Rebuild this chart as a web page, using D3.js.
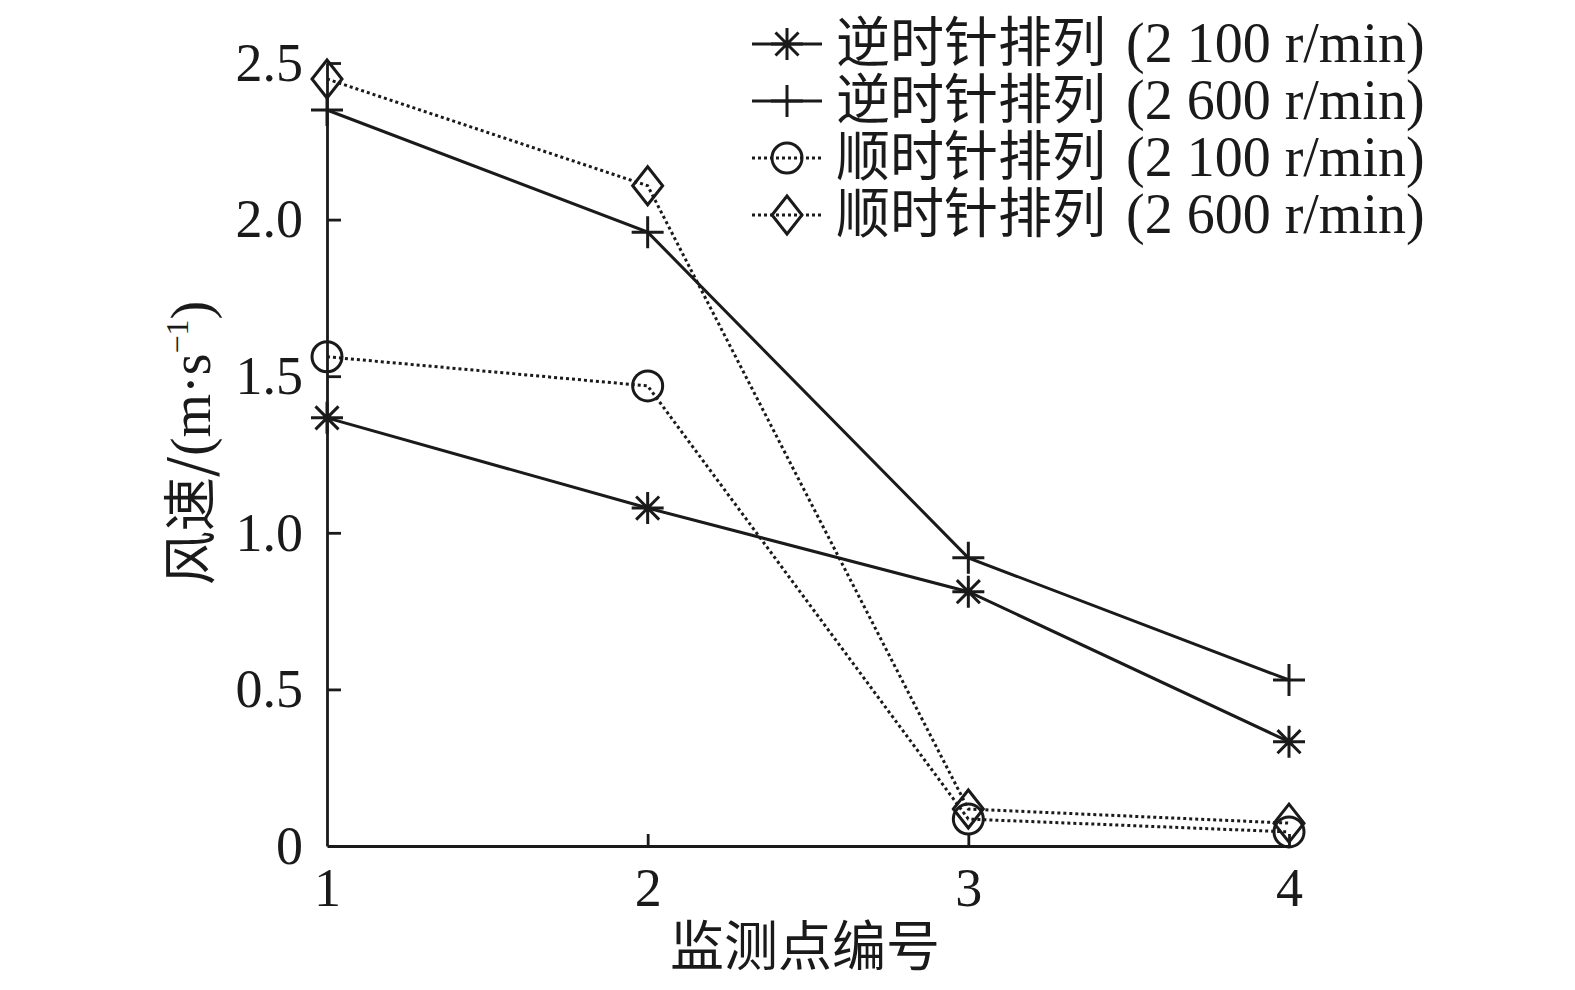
<!DOCTYPE html>
<html>
<head>
<meta charset="utf-8">
<script src="https://cdn.jsdelivr.net/npm/d3@7"></script>
<style>
    body { margin: 0; background: #fff; }
    svg { display: block; }
    .axis path, .axis line { stroke: #1a1a1a; stroke-width: 2.8px; }
    .axis text { font-family: "Liberation Serif", "Times New Roman", serif; font-size: 54px; fill: #1a1a1a; }
</style>
</head>
<body>
<svg id="chart" width="1575" height="990"></svg>
<script>
// monitoring points
var points = [1, 2, 3, 4];
var xTicks = [1, 2, 3, 4];
var yTicks = [0, 0.5, 1.0, 1.5, 2.0, 2.5];

// wind speed, m/s
var ccw2100 = [1.367, 1.079, 0.812, 0.333];
var ccw2600 = [2.35, 1.96, 0.92, 0.53];
var cw2100 = [1.562, 1.469, 0.086, 0.045];
var cw2600 = [2.449, 2.108, 0.118, 0.073];

var seriesNames = [
    "逆时针排列 (2 100 r/min)",
    "逆时针排列 (2 600 r/min)",
    "顺时针排列 (2 100 r/min)",
    "顺时针排列 (2 600 r/min)"
];

var series = [
    { name: seriesNames[0], values: ccw2100, marker: "star", dash: null },
    { name: seriesNames[1], values: ccw2600, marker: "plus", dash: null },
    { name: seriesNames[2], values: cw2100, marker: "circle", dash: "3,3" },
    { name: seriesNames[3], values: cw2600, marker: "diamond", dash: "3,3" }
];

var svg = d3.select("svg#chart"),
    ink = "#1a1a1a",
    x_scale = d3.scaleLinear().domain([1, 4]).range([327, 1289]),
    y_scale = d3.scaleLinear().domain([0, 2.5]).range([846, 63]);

var y_axis = d3.axisLeft(y_scale)
    .tickValues(yTicks)
    .tickFormat(d => d === 0 ? "0" : d3.format(".1f")(d))
    .tickSizeInner(-14)
    .tickSizeOuter(0)
    .tickPadding(24);

var x_axis = d3.axisBottom(x_scale)
    .tickValues(xTicks)
    .tickFormat(d3.format("d"))
    .tickSizeInner(-12)
    .tickSizeOuter(0)
    .tickPadding(22);

svg.append("g")
    .attr("class", "y axis")
    .attr("transform", "translate(327,0)")
    .call(y_axis);

svg.append("g")
    .attr("class", "x axis")
    .attr("transform", "translate(0,846)")
    .call(x_axis);

// remove tick marks at the origin
svg.selectAll(".y.axis .tick").filter(d => d === 0).select("line").remove();
svg.selectAll(".x.axis .tick").filter(d => d === 1).select("line").remove();

// axis titles
svg.append("text")
    .attr("x", 805)
    .attr("y", 966)
    .attr("text-anchor", "middle")
    .attr("font-family", "Noto Sans CJK SC")
    .attr("font-size", 54)
    .attr("fill", ink)
    .text("监测点编号");

var ytitle = svg.append("text")
    .attr("transform", "translate(210,443) rotate(-90)")
    .attr("text-anchor", "middle")
    .attr("fill", ink);
ytitle.append("tspan")
    .attr("font-family", "Noto Sans CJK SC")
    .attr("font-size", 54)
    .text("风速/");
ytitle.append("tspan")
    .attr("font-family", "Liberation Serif")
    .attr("font-size", 56)
    .text("(m·s");
ytitle.append("tspan")
    .attr("font-family", "Liberation Serif")
    .attr("font-size", 32)
    .attr("dy", -22)
    .text("−1");
ytitle.append("tspan")
    .attr("font-family", "Liberation Serif")
    .attr("font-size", 56)
    .attr("dy", 22)
    .text(")");

function drawMarker(sel, type) {
    var s = 16;
    if (type === "star") {
        var a = s * 0.72;
        sel.append("path")
            .attr("d", "M" + (-s) + ",0H" + s + "M0," + (-s) + "V" + s +
                "M" + (-a) + "," + (-a) + "L" + a + "," + a +
                "M" + (-a) + "," + a + "L" + a + "," + (-a))
            .attr("stroke", ink).attr("stroke-width", 3).attr("fill", "none");
    } else if (type === "plus") {
        sel.append("path")
            .attr("d", "M" + (-s) + ",0H" + s + "M0," + (-s) + "V" + s)
            .attr("stroke", ink).attr("stroke-width", 3).attr("fill", "none");
    } else if (type === "circle") {
        sel.append("circle")
            .attr("r", 15)
            .attr("stroke", ink).attr("stroke-width", 3).attr("fill", "none");
    } else if (type === "diamond") {
        sel.append("path")
            .attr("d", "M0,-19L15,0L0,19L-15,0Z")
            .attr("stroke", ink).attr("stroke-width", 3).attr("fill", "none");
    }
}

var line = d3.line()
    .x((d, i) => x_scale(points[i]))
    .y(d => y_scale(d));

series.forEach(function (s) {
    svg.append("path")
        .datum(s.values)
        .attr("d", line)
        .attr("fill", "none")
        .attr("stroke", ink)
        .attr("stroke-width", 3)
        .attr("stroke-dasharray", s.dash);

    svg.append("g")
        .selectAll("g")
        .data(s.values)
        .enter()
        .append("g")
        .attr("transform", (d, i) => "translate(" + x_scale(points[i]) + "," + y_scale(d) + ")")
        .each(function () { drawMarker(d3.select(this), s.marker); });
});

// legend
var legend = svg.append("g")
    .attr("class", "legend")
    .attr("transform", "translate(752,44)");

series.forEach(function (s, i) {
    var row = legend.append("g").attr("transform", "translate(0," + (i * 57) + ")");
    row.append("line")
        .attr("x1", 0).attr("x2", 70)
        .attr("stroke", ink)
        .attr("stroke-width", 3)
        .attr("stroke-dasharray", s.dash);
    drawMarker(row.append("g").attr("transform", "translate(35,0)"), s.marker);
    var t = row.append("text")
        .attr("x", 84)
        .attr("y", 18)
        .attr("fill", ink);
    t.append("tspan")
        .attr("font-family", "Noto Sans CJK SC")
        .attr("font-size", 54)
        .text(s.name.split(" ")[0]);
    t.append("tspan")
        .attr("font-family", "Liberation Serif")
        .attr("font-size", 56)
        .attr("dx", 6)
        .text(" " + s.name.split(" ").slice(1).join(" "));
});
</script>
</body>
</html>
